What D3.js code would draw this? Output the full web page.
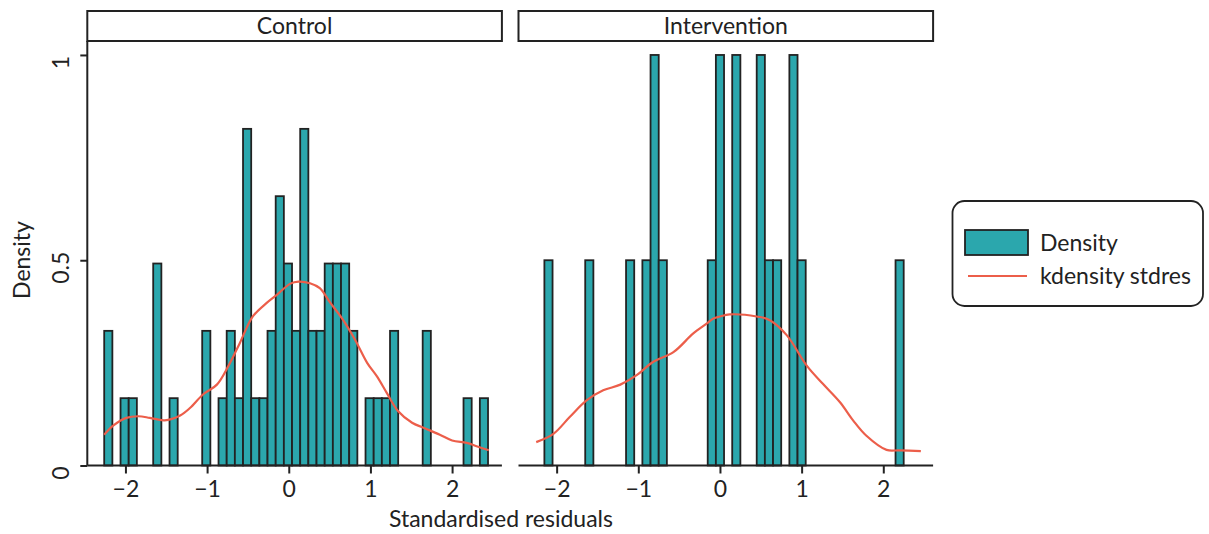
<!DOCTYPE html>
<html>
<head>
<meta charset="utf-8">
<script src="https://cdn.jsdelivr.net/npm/d3@7"></script>
<style>
  html, body { margin: 0; padding: 0; background: #fff; }
  svg { display: block; font-family: Lato, "Open Sans", sans-serif; }
</style>
</head>
<body>
<svg id="chart" width="1209" height="534"></svg>
<script>
// Histogram of standardised residuals by group, with kernel density overlay
const panels = ["Control", "Intervention"];
const binWidth = 0.1;

const controlBinStart = [-2.26, -2.06, -1.96, -1.66, -1.46, -1.06, -0.86, -0.76, -0.66, -0.56,
  -0.46, -0.36, -0.26, -0.16, -0.06, 0.04, 0.14, 0.24, 0.34, 0.44,
  0.54, 0.64, 0.74, 0.94, 1.04, 1.14, 1.24, 1.64, 2.14, 2.34];
const controlDensity = [0.328, 0.164, 0.164, 0.492, 0.164, 0.328, 0.164, 0.328, 0.164, 0.820,
  0.164, 0.164, 0.328, 0.656, 0.492, 0.328, 0.820, 0.328, 0.328, 0.492,
  0.492, 0.492, 0.328, 0.164, 0.164, 0.164, 0.328, 0.328, 0.164, 0.164];

const interventionBinStart = [-2.15, -1.65, -1.15, -0.95, -0.85, -0.75, -0.15, -0.05, 0.15, 0.45,
  0.55, 0.65, 0.85, 0.95, 2.15];
const interventionDensity = [0.5, 0.5, 0.5, 0.5, 1.0, 0.5, 0.5, 1.0, 1.0, 1.0,
  0.5, 0.5, 1.0, 0.5, 0.5];

const controlKdX = [-2.26, -2.15, -1.99, -1.84, -1.70, -1.52, -1.33, -1.21, -1.05, -0.88,
  -0.74, -0.60, -0.44, -0.27, -0.15, 0.02, 0.12, 0.26, 0.38, 0.51,
  0.65, 0.81, 0.96, 1.08, 1.20, 1.34, 1.51, 1.65, 1.85, 2.00,
  2.18, 2.30, 2.45];
const controlKdY = [0.075, 0.097, 0.116, 0.120, 0.116, 0.110, 0.122, 0.140, 0.173, 0.197,
  0.242, 0.298, 0.363, 0.396, 0.415, 0.443, 0.448, 0.444, 0.432, 0.396,
  0.359, 0.307, 0.250, 0.217, 0.177, 0.132, 0.104, 0.092, 0.075, 0.061,
  0.055, 0.047, 0.037];

const interventionKdX = [-2.25, -2.04, -1.84, -1.63, -1.43, -1.22, -1.02, -0.82, -0.57, -0.33,
  -0.16, -0.08, 0.00, 0.12, 0.45, 0.61, 0.82, 1.06, 1.26, 1.47,
  1.63, 1.79, 2.04, 2.20, 2.46];
const interventionKdY = [0.057, 0.077, 0.118, 0.159, 0.183, 0.197, 0.220, 0.252, 0.276, 0.321,
  0.346, 0.358, 0.363, 0.368, 0.363, 0.354, 0.317, 0.244, 0.199, 0.154,
  0.110, 0.073, 0.038, 0.037, 0.035];

const xTicks = [-2, -1, 0, 1, 2];
const yTicks = [0, 0.5, 1];
const yTickLabels = ["0", "0.5", "1"];

const panelData = [
  { name: panels[0], start: controlBinStart, dens: controlDensity, kx: controlKdX, ky: controlKdY },
  { name: panels[1], start: interventionBinStart, dens: interventionDensity, kx: interventionKdX, ky: interventionKdY }
];

const barFill = "#2ba7ad";
const ink = "#222";
const lineColor = "#ec5e4a";
const fontSize = 23;

const svg = d3.select("#chart");
const panelLeft = [87.3, 518.5];
const panelWidth = 414.6;
const plotTop = 41, plotBottom = 465.5, stripTop = 11;

const y = d3.scaleLinear().domain([0, 1.034]).range([plotBottom, plotTop]);
const fmtMinus = d => (d < 0 ? "\u2212" + Math.abs(d) : String(d));

panelData.forEach((p, i) => {
  const x = d3.scaleLinear().domain([-2.467, 2.61]).range([panelLeft[i], panelLeft[i] + panelWidth]);
  const g = svg.append("g");

  // strip header
  g.append("rect")
    .attr("x", panelLeft[i]).attr("y", stripTop)
    .attr("width", panelWidth).attr("height", plotTop - stripTop)
    .attr("fill", "#fff").attr("stroke", ink).attr("stroke-width", 2);
  g.append("text")
    .attr("x", panelLeft[i] + panelWidth / 2).attr("y", (stripTop + plotTop) / 2)
    .attr("dy", "0.36em").attr("text-anchor", "middle")
    .attr("font-size", fontSize).attr("fill", ink).text(p.name);

  // histogram bars
  g.selectAll("rect.bar").data(p.start.map((s, k) => ({ s, d: p.dens[k] })))
    .join("rect").attr("class", "bar")
    .attr("x", d => x(d.s))
    .attr("width", d => x(d.s + binWidth) - x(d.s))
    .attr("y", d => y(d.d))
    .attr("height", d => y(0) - y(d.d))
    .attr("fill", barFill).attr("stroke", ink).attr("stroke-width", 1.8);

  // kernel density
  const line = d3.line().x(d => x(d[0])).y(d => y(d[1])).curve(d3.curveCatmullRom);
  g.append("path")
    .datum(p.kx.map((v, k) => [v, p.ky[k]]))
    .attr("d", line).attr("fill", "none")
    .attr("stroke", lineColor).attr("stroke-width", 2.2);

  // x axis
  const xAxis = d3.axisBottom(x).tickValues(xTicks).tickSize(8).tickPadding(7).tickFormat(fmtMinus);
  const ax = g.append("g").attr("transform", `translate(0,${plotBottom})`).call(xAxis);
  ax.select(".domain").attr("stroke", ink).attr("stroke-width", 2)
    .attr("d", `M${panelLeft[i]},0H${panelLeft[i] + panelWidth}`);
  ax.selectAll(".tick line").attr("stroke", ink).attr("stroke-width", 2);
  ax.selectAll(".tick text").attr("font-size", fontSize).attr("fill", ink)
    .attr("font-family", "Lato, sans-serif");

  // y axis on the first panel only
  if (i === 0) {
    const yAxis = d3.axisLeft(y).tickValues(yTicks).tickSize(7).tickPadding(0)
      .tickFormat((d, k) => yTickLabels[k]);
    const ay = g.append("g").attr("transform", `translate(${panelLeft[i]},0)`).call(yAxis);
    ay.select(".domain").attr("stroke", ink).attr("stroke-width", 2)
      .attr("d", `M0,${plotTop}V${plotBottom}`);
    ay.selectAll(".tick line").attr("stroke", ink).attr("stroke-width", 2);
    ay.selectAll(".tick text").attr("font-size", fontSize).attr("fill", ink)
      .attr("font-family", "Lato, sans-serif")
      .attr("text-anchor", "middle").attr("dy", null)
      .attr("transform", "translate(-18,0) rotate(-90)");
  }
});

// axis titles
svg.append("text").attr("x", 501).attr("y", 519).attr("dy", "0.36em")
  .attr("text-anchor", "middle").attr("font-size", fontSize).attr("fill", ink)
  .text("Standardised residuals");
svg.append("text").attr("transform", "translate(22,260) rotate(-90)")
  .attr("dy", "0.36em").attr("text-anchor", "middle").attr("font-size", fontSize).attr("fill", ink)
  .text("Density");

// legend
const lg = svg.append("g");
lg.append("rect").attr("x", 952.5).attr("y", 201).attr("width", 250.5).attr("height", 105)
  .attr("rx", 12).attr("fill", "#fff").attr("stroke", ink).attr("stroke-width", 1.8);
lg.append("rect").attr("x", 965).attr("y", 230).attr("width", 63).attr("height", 25)
  .attr("fill", barFill).attr("stroke", ink).attr("stroke-width", 1.8);
lg.append("line").attr("x1", 968).attr("x2", 1027).attr("y1", 276).attr("y2", 276)
  .attr("stroke", lineColor).attr("stroke-width", 2.2);
lg.append("text").attr("x", 1040).attr("y", 243).attr("dy", "0.36em")
  .attr("font-size", fontSize).attr("fill", ink).text("Density");
lg.append("text").attr("x", 1040).attr("y", 276).attr("dy", "0.36em")
  .attr("font-size", fontSize).attr("fill", ink).text("kdensity stdres");
</script>
</body>
</html>
